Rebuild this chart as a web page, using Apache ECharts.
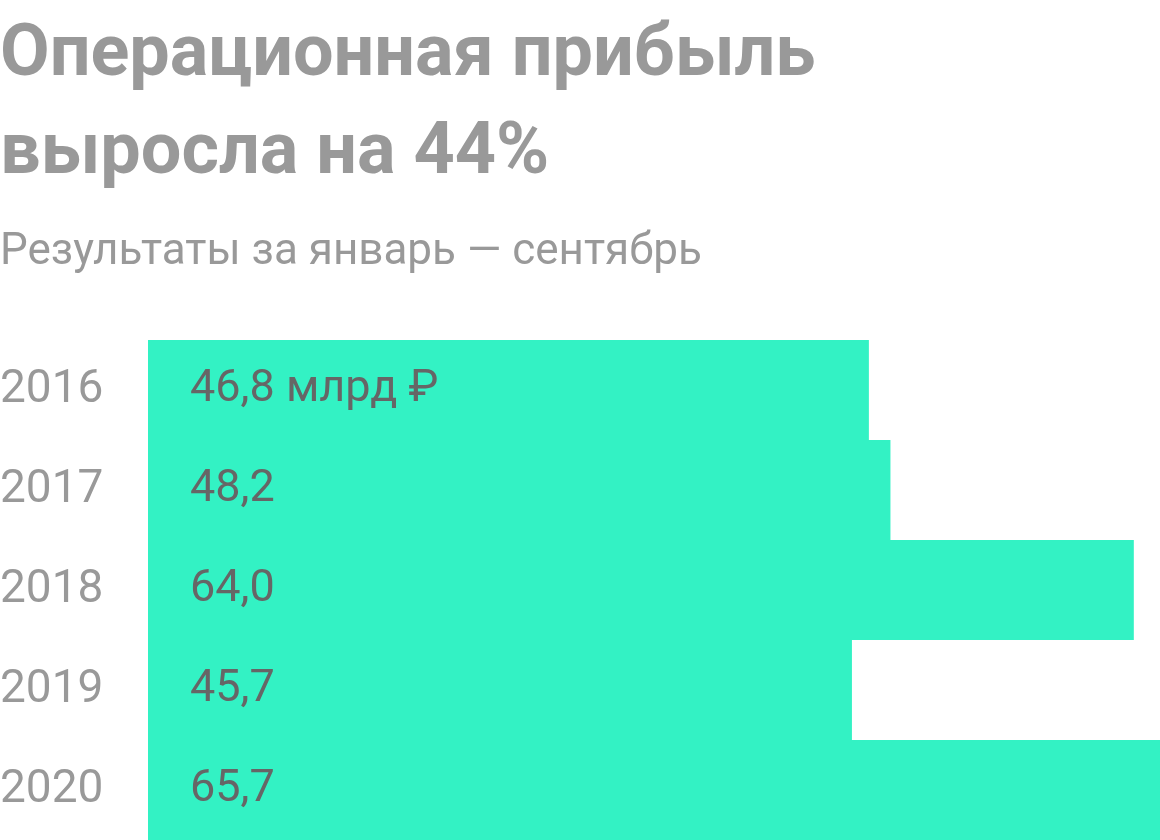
<!DOCTYPE html>
<html>
<head>
<meta charset="utf-8">
<script src="https://cdn.jsdelivr.net/npm/echarts@6/dist/echarts.min.js"></script>
<style>
html,body{margin:0;padding:0;background:#fff;}
#chart{width:1160px;height:840px;}
</style>
</head>
<body>
<div id="chart"></div>
<script>
const titleText = 'Операционная прибыль\nвыросла на 44%';
const subtitleText = 'Результаты за январь — сентябрь';
const years = ['2016', '2017', '2018', '2019', '2020'];
const profit = [46.8, 48.2, 64.0, 45.7, 65.7];
const unitSuffix = ' млрд ₽';

const chart = echarts.init(document.getElementById('chart'));
chart.setOption({
  backgroundColor: '#ffffff',
  animation: false,
  title: [
    {
      text: titleText,
      left: 0, top: 8, padding: 0,
      textStyle: { fontFamily: 'Roboto', fontWeight: 'bold', fontSize: 72, color: '#999999', lineHeight: 98 }
    },
    {
      text: subtitleText,
      left: 0, top: 227, padding: 0,
      textStyle: { fontFamily: 'Roboto', fontWeight: 'normal', fontSize: 44, color: '#999999', lineHeight: 52 }
    }
  ],
  grid: { left: 148, right: 0, top: 340, bottom: 0, containLabel: false, outerBoundsMode: 'none' },
  xAxis: {
    type: 'value', min: 0, max: 65.7, show: false
  },
  yAxis: {
    type: 'category', data: years, inverse: true,
    axisLine: { show: false }, axisTick: { show: false },
    axisLabel: { align: 'left', margin: 148, fontFamily: 'Roboto', fontSize: 46, color: '#999999' }
  },
  series: [{
    type: 'bar',
    data: profit,
    barWidth: '100%',
    barCategoryGap: 0,
    itemStyle: { color: '#33F2C4' },
    label: {
      show: true, position: 'insideLeft', distance: 42,
      fontFamily: 'Roboto', fontSize: 45, color: '#666666',
      formatter: p => p.value.toFixed(1).replace('.', ',') + (p.dataIndex === 0 ? unitSuffix : '')
    }
  }]
});
</script>
</body>
</html>
